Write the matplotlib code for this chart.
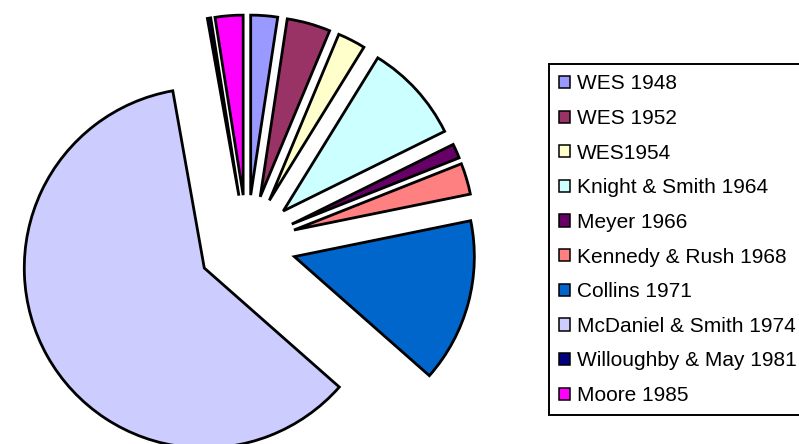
import matplotlib
matplotlib.use("Agg")
import matplotlib.pyplot as plt
from matplotlib.patches import Patch

# Datos de la grafica (porcentaje de cada estudio)
etiquetas = ["WES 1948", "WES 1952", "WES1954", "Knight & Smith 1964", "Meyer 1966",
             "Kennedy & Rush 1968", "Collins 1971", "McDaniel & Smith 1974",
             "Willoughby & May 1981", "Moore 1985"]
valores = [2.4, 3.9, 2.5, 8.9, 1.3, 2.8, 14.7, 60.7, 0.3, 2.5]
colores = ["#9999FF", "#993366", "#FFFFCC", "#CCFFFF", "#660066",
           "#FF8080", "#0066CC", "#CCCCFF", "#000080", "#FF00FF"]


def main():
    fig = plt.figure(figsize=(7.99, 4.44), dpi=100)
    ax = fig.add_axes([0, 0, 1, 1])

    ax.pie(
        valores,
        colors=colores,
        startangle=90,
        counterclock=False,
        radius=180,
        center=(247, 200),
        explode=[49] * len(valores),
        wedgeprops=dict(edgecolor="black", linewidth=2),
        frame=False,
    )
    ax.set_xlim(0, 799)
    ax.set_ylim(0, 444)
    ax.set_aspect("equal")
    ax.axis("off")

    handles = [Patch(facecolor=c, edgecolor="black", linewidth=1.1) for c in colores]
    leg = ax.legend(
        handles, etiquetas,
        loc="upper left",
        bbox_to_anchor=(549 / 799, 1 - 64 / 444),
        bbox_transform=fig.transFigure,
        prop={"family": "Liberation Sans", "size": 15},
        frameon=True, fancybox=False, shadow=False, framealpha=1,
        edgecolor="black",
        borderpad=0.5, labelspacing=0.75,
        handlelength=0.53, handleheight=0.53, handletextpad=0.3,
        borderaxespad=0,
    )
    leg.get_frame().set_linewidth(1.4)

    fig.savefig("out.png", dpi=100)
    plt.close()


if __name__ == "__main__":
    main()
